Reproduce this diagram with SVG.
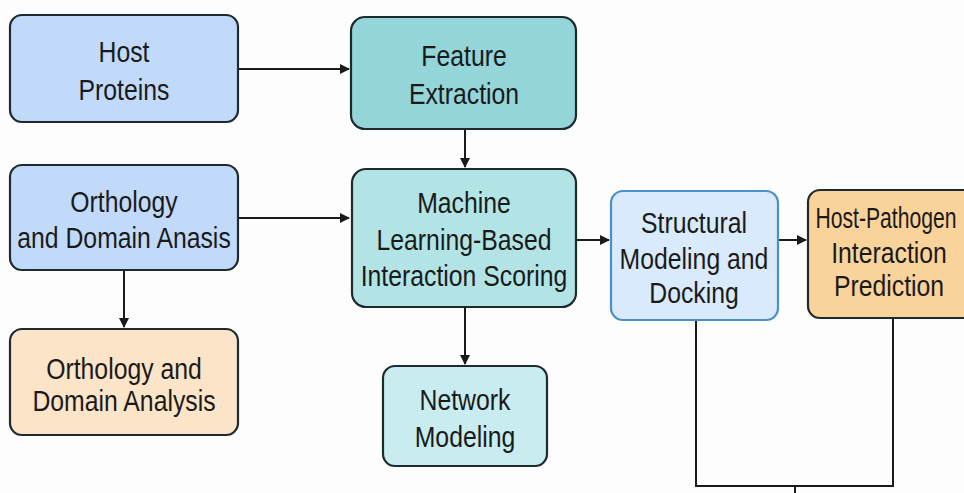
<svg xmlns="http://www.w3.org/2000/svg" width="964" height="493" viewBox="0 0 964 493">
  <defs>
    <marker id="arrow" viewBox="0 0 10 10" refX="9" refY="5" markerWidth="5" markerHeight="5" orient="auto">
      <path d="M0,0 L10,5 L0,10 z" fill="#1a1a1a"/>
    </marker>
  </defs>
  <style>
    .box { stroke: #1f2a2e; stroke-width: 2.2; }
    .lbl { font-family: "Liberation Sans", Arial, sans-serif; font-size: 29px; fill: #1a1a1a; text-anchor: middle; }
    .edge { fill: none; stroke: #1a1a1a; stroke-width: 2; }
  </style>
  <rect width="964" height="493" fill="#fdfdfd"/>

  <g id="connectors">
    <line class="edge" x1="238" y1="69" x2="349" y2="69" marker-end="url(#arrow)"/>
    <line class="edge" x1="465" y1="129" x2="465" y2="167" marker-end="url(#arrow)"/>
    <line class="edge" x1="238" y1="218" x2="349" y2="218" marker-end="url(#arrow)"/>
    <line class="edge" x1="124" y1="270" x2="124" y2="327" marker-end="url(#arrow)"/>
    <line class="edge" x1="465" y1="307" x2="465" y2="364" marker-end="url(#arrow)"/>
    <line class="edge" x1="576" y1="240" x2="609" y2="240" marker-end="url(#arrow)"/>
    <line class="edge" x1="778" y1="240" x2="806" y2="240" marker-end="url(#arrow)"/>
    <polyline class="edge" points="696,320 696,486 893,486 893,318"/>
    <line class="edge" x1="795" y1="486" x2="795" y2="493"/>
  </g>

  <!-- labels use a horizontally condensed sans: matrix(sx 0 0 1 cx baseline) -->
  <g id="host-proteins">
    <rect class="box" x="10" y="15" width="228" height="107" rx="12" fill="#c2dafa"/>
    <text class="lbl" transform="matrix(0.855 0 0 1 124 62)">Host</text>
    <text class="lbl" transform="matrix(0.855 0 0 1 124 100)">Proteins</text>
  </g>

  <g id="feature-extraction">
    <rect class="box" x="351" y="17" width="225" height="112" rx="14" fill="#93d5d9"/>
    <text class="lbl" transform="matrix(0.855 0 0 1 464 66)">Feature</text>
    <text class="lbl" transform="matrix(0.855 0 0 1 464 104)">Extraction</text>
  </g>

  <g id="orthology-domain-anasis">
    <rect class="box" x="10" y="165" width="228" height="105" rx="12" fill="#c2dafa"/>
    <text class="lbl" transform="matrix(0.855 0 0 1 124 212)">Orthology</text>
    <text class="lbl" transform="matrix(0.855 0 0 1 124 248)">and Domain Anasis</text>
  </g>

  <g id="ml-scoring">
    <rect class="box" x="352" y="169" width="224" height="138" rx="14" fill="#b2e4e6"/>
    <text class="lbl" transform="matrix(0.855 0 0 1 464 213)">Machine</text>
    <text class="lbl" transform="matrix(0.855 0 0 1 464 250)">Learning-Based</text>
    <text class="lbl" transform="matrix(0.855 0 0 1 464 286)">Interaction Scoring</text>
  </g>

  <g id="structural-modeling">
    <rect x="611" y="191" width="167" height="129" rx="12" fill="#d8eafb" stroke="#4a8fc9" stroke-width="2.2"/>
    <text class="lbl" transform="matrix(0.855 0 0 1 694 233)">Structural</text>
    <text class="lbl" transform="matrix(0.855 0 0 1 694 269)">Modeling and</text>
    <text class="lbl" transform="matrix(0.855 0 0 1 694 303)">Docking</text>
  </g>

  <g id="host-pathogen-prediction">
    <rect class="box" x="808" y="190" width="170" height="128" rx="12" fill="#f9d39a"/>
    <text class="lbl" transform="matrix(0.73 0 0 1 886 228)">Host-Pathogen</text>
    <text class="lbl" transform="matrix(0.855 0 0 1 889 263)">Interaction</text>
    <text class="lbl" transform="matrix(0.855 0 0 1 889 296)">Prediction</text>
  </g>

  <g id="orthology-domain-analysis">
    <rect class="box" x="10" y="329" width="228" height="106" rx="12" fill="#fbe4c8"/>
    <text class="lbl" transform="matrix(0.855 0 0 1 124 379)">Orthology and</text>
    <text class="lbl" transform="matrix(0.855 0 0 1 124 411)">Domain Analysis</text>
  </g>

  <g id="network-modeling">
    <rect class="box" x="383" y="366" width="164" height="100" rx="12" fill="#c8ecf0"/>
    <text class="lbl" transform="matrix(0.855 0 0 1 465 410)">Network</text>
    <text class="lbl" transform="matrix(0.855 0 0 1 465 447)">Modeling</text>
  </g>
</svg>
